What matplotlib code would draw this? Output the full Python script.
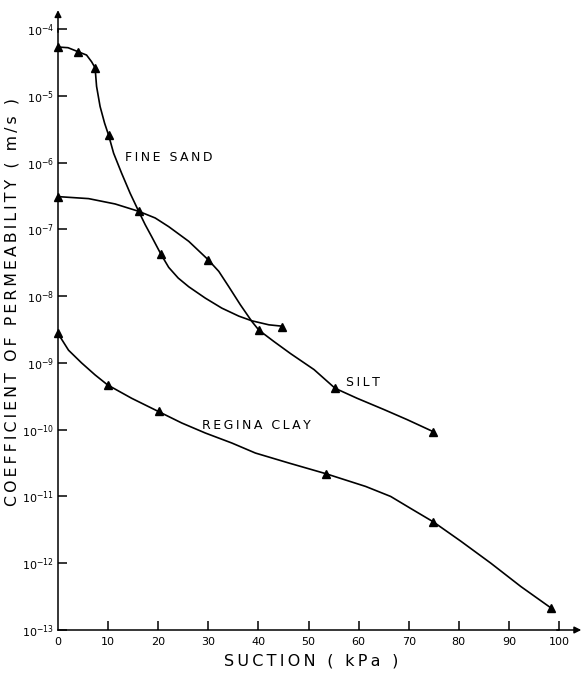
import numpy as np
import matplotlib
matplotlib.use("Agg")
import matplotlib.pyplot as plt

# measured points (suction kPa, permeability m/s)
sand_x = [0, 4, 7.4, 10.1, 20.6, 44.7]
sand_k = [5.4e-5, 4.6e-5, 2.6e-5, 2.6e-6, 4.2e-8, 3.5e-9]
silt_x = [0, 16.1, 29.9, 40.1, 55.3, 74.9]
silt_k = [3.1e-7, 1.9e-7, 3.5e-8, 3.1e-9, 4.2e-10, 9.3e-11]
clay_x = [0, 9.9, 20.1, 53.5, 74.9, 98.4]
clay_k = [2.8e-9, 4.7e-10, 1.9e-10, 2.2e-11, 4.2e-12, 2.1e-13]

# hand-drawn curves (x, log10 k)
sand_curve_x = [0, 2, 4, 5.7, 6.7, 7.4, 7.7, 8.4, 9.3, 10.1, 11.1, 12.7, 14.4,
                16.1, 17.4, 18.7, 20.6, 22.1, 24.0, 26.1, 29.4, 32.7, 36.1, 38.7, 42.1, 44.7]
sand_curve_logk = [-4.27, -4.28, -4.34, -4.39, -4.49, -4.58, -4.86, -5.16, -5.41, -5.59,
                   -5.86, -6.16, -6.46, -6.73, -6.93, -7.11, -7.38, -7.57, -7.73, -7.86,
                   -8.03, -8.18, -8.30, -8.37, -8.43, -8.45]
silt_curve_x = [0, 6.1, 11.4, 16.1, 19.4, 22.1, 26.1, 29.9, 32.1, 34.1, 36.4, 38.7,
                40.1, 43.1, 46.4, 51.1, 55.3, 59.7, 65.1, 69.7, 74.9]
silt_curve_logk = [-6.51, -6.54, -6.62, -6.73, -6.83, -6.96, -7.18, -7.45, -7.63, -7.86,
                   -8.13, -8.38, -8.51, -8.68, -8.86, -9.10, -9.38, -9.53, -9.70, -9.85,
                   -10.03]
clay_curve_x = [0, 2.1, 4.7, 7.4, 9.9, 14.7, 20.1, 24.7, 29.4, 34.7, 39.4, 46.1, 53.5,
                56.4, 61.4, 66.4, 70.4, 74.9, 80.4, 86.4, 92.4, 98.4]
clay_curve_logk = [-8.56, -8.81, -9.00, -9.18, -9.33, -9.53, -9.73, -9.90, -10.05, -10.20,
                   -10.35, -10.50, -10.66, -10.73, -10.85, -11.00, -11.18, -11.38, -11.67,
                   -12.00, -12.35, -12.67]

x_ticks = [0, 10, 20, 30, 40, 50, 60, 70, 80, 90, 100]
y_exps = [-13, -12, -11, -10, -9, -8, -7, -6, -5, -4]


def spaced(s, sep="\u2009"):
    return sep.join(s)


plt.rcParams['font.family'] = ['DejaVu Sans']
plt.rcParams['mathtext.fontset'] = 'dejavusans'

fig = plt.figure(figsize=(5.85, 6.79), dpi=100)
ax = fig.add_axes([58 / 585, 1 - 630 / 679, 501 / 585, 601 / 679])

for cx, cy in [(sand_curve_x, sand_curve_logk), (silt_curve_x, silt_curve_logk),
               (clay_curve_x, clay_curve_logk)]:
    ax.plot(cx, 10.0 ** np.array(cy), color='black', lw=1.2, clip_on=False)

for px, pk in [(sand_x, sand_k), (silt_x, silt_k), (clay_x, clay_k)]:
    ax.plot(px, pk, ls='none', marker='^', ms=5.5, color='black', clip_on=False)

ax.set_yscale('log')
ax.set_xlim(0, 100)
ax.set_ylim(1e-13, 1e-4)

ax.set_xticks(x_ticks)
ax.set_xticklabels([str(t) for t in x_ticks])
ax.set_yticks([10.0 ** e for e in y_exps])
ax.set_yticklabels([r'$10^{%d}$' % e for e in y_exps])
ax.yaxis.set_minor_locator(matplotlib.ticker.NullLocator())
ax.tick_params(axis='both', direction='in', length=6.5, width=1.1, labelsize=8, pad=3)
ax.tick_params(axis='x', pad=5)
ax.xaxis.get_major_ticks()[0].tick1line.set_visible(False)

for side in ['top', 'right']:
    ax.spines[side].set_visible(False)
for side in ['left', 'bottom']:
    ax.spines[side].set_linewidth(1.1)

# axis arrows
ax.annotate('', xy=(0, 1.036), xytext=(0, 0.99), xycoords='axes fraction',
            arrowprops=dict(arrowstyle='-|>', color='black', lw=1.1, mutation_scale=10))
ax.annotate('', xy=(1.05, 0), xytext=(0.99, 0), xycoords='axes fraction',
            arrowprops=dict(arrowstyle='-|>', color='black', lw=1.1, mutation_scale=10))

ax.text(13.4, 10 ** -5.93, spaced("FINE SAND"), fontsize=9, va='center', ha='left')
ax.text(57.4, 10 ** -9.30, spaced("SILT"), fontsize=9, va='center', ha='left')
ax.text(28.8, 10 ** -9.94, spaced("REGINA CLAY"), fontsize=9, va='center', ha='left')

fig.text(12 / 585, 1 - 302 / 679, spaced("COEFFICIENT OF PERMEABILITY ( m/s )"),
         rotation=90, fontsize=11.3, ha='center', va='center')
fig.text(311 / 585, 1 - 661 / 679, spaced("SUCTION ( kPa )"),
         fontsize=11.5, ha='center', va='center')

fig.savefig('out.png', dpi=100)
